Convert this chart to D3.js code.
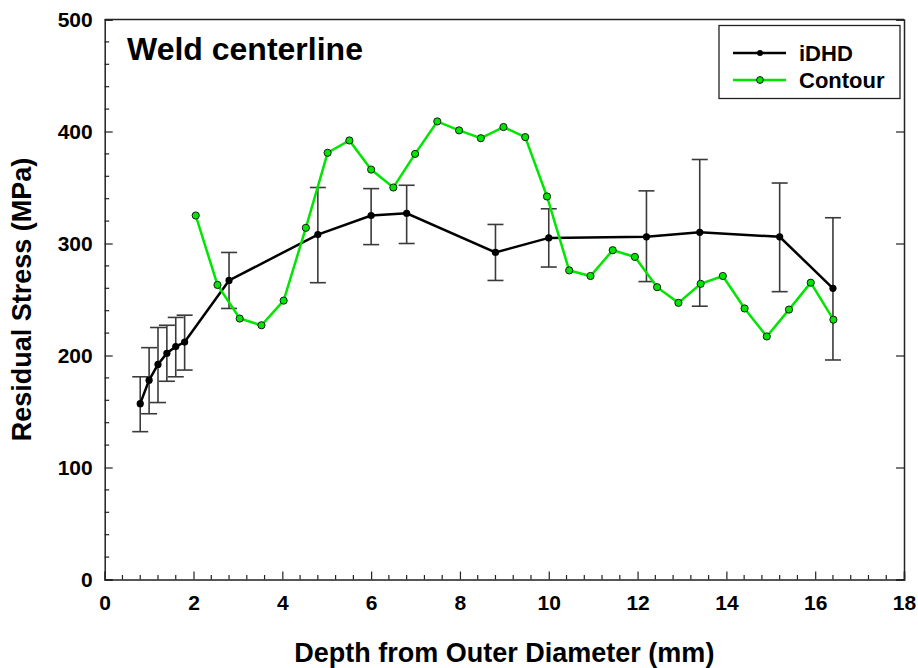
<!DOCTYPE html>
<html>
<head>
<meta charset="utf-8">
<script src="https://cdn.jsdelivr.net/npm/d3@7/dist/d3.min.js"></script>
<style>
  html, body { margin: 0; padding: 0; background: #fff; }
  svg { display: block; }
  text { font-family: "Liberation Sans", Arial, Helvetica, sans-serif; font-weight: bold; fill: #000; }
</style>
</head>
<body>
<svg id="chart" width="918" height="668"></svg>
<script>
// iDHD measurements: depth (mm), stress (MPa) and error-bar bounds
const idhdDepth = [0.80, 1.00, 1.20, 1.40, 1.60, 1.80, 2.80, 4.80, 6.00, 6.80, 8.80, 10.00, 12.20, 13.40, 15.20, 16.40];
const idhdStress = [157, 178, 192, 202, 208, 212, 267, 308, 325, 327, 292, 305, 306, 310, 306, 260];
const idhdLow = [132, 148, 158, 177, 181, 187, 242, 265, 299, 300, 267, 279, 266, 244, 257, 196];
const idhdHigh = [181, 207, 225, 227, 234, 236, 292, 350, 349, 352, 317, 331, 347, 375, 354, 323];

// Contour method profile
const contourDepth = [2.05, 2.54, 3.04, 3.53, 4.03, 4.53, 5.02, 5.51, 6.00, 6.50, 6.99, 7.49, 7.98, 8.47, 8.98,
                      9.47, 9.96, 10.46, 10.94, 11.44, 11.94, 12.44, 12.92, 13.42, 13.92, 14.41, 14.91, 15.41, 15.90, 16.41];
const contourStress = [325, 263, 233, 227, 249, 314, 381, 392, 366, 350, 380, 409, 401, 394, 404,
                       395, 342, 276, 271, 294, 288, 261, 247, 264, 271, 242, 217, 241, 265, 232];

// Axis ticks
const xTicks = [0, 2, 4, 6, 8, 10, 12, 14, 16, 18];
const yTicks = [0, 100, 200, 300, 400, 500];
const seriesNames = ["iDHD", "Contour"];

const svg = d3.select("#chart");
const plot = { left: 104.7, right: 904, top: 19.5, bottom: 579.5 };

const x = d3.scaleLinear().domain([0, 18]).range([plot.left, plot.right]);
const y = d3.scaleLinear().domain([0, 500]).range([plot.bottom, plot.top]);

const axisColor = "#222";
const green = "#00e600";

// Minor ticks (every 0.4 mm / 20 MPa), inward
const xMinor = d3.range(0, 18.001, 0.4).filter(v => Math.abs(v / 2 - Math.round(v / 2)) > 1e-6);
const yMinor = d3.range(0, 500.001, 20).filter(v => v % 100 !== 0);

const axes = svg.append("g");

// Bottom axis
const xAxis = d3.axisBottom(x).tickValues(xTicks).tickSize(-8).tickPadding(16).tickFormat(d3.format("d"));
const gx = axes.append("g").attr("transform", `translate(0,${plot.bottom})`).call(xAxis);
gx.append("g").selectAll("line").data(xMinor).join("line")
  .attr("x1", d => x(d)).attr("x2", d => x(d)).attr("y1", 0).attr("y2", -4.5)
  .attr("stroke", axisColor).attr("stroke-width", 1.2);

// Left axis
const yAxis = d3.axisLeft(y).tickValues(yTicks).tickSize(-8).tickPadding(12).tickFormat(d3.format("d"));
const gy = axes.append("g").attr("transform", `translate(${plot.left},0)`).call(yAxis);
gy.append("g").selectAll("line").data(yMinor).join("line")
  .attr("y1", d => y(d)).attr("y2", d => y(d)).attr("x1", 0).attr("x2", 4.5)
  .attr("stroke", axisColor).attr("stroke-width", 1.2);

// Right axis: major ticks only
axes.append("g").attr("transform", `translate(${plot.right},0)`)
  .call(d3.axisRight(y).tickValues(yTicks).tickSize(-8).tickFormat(""));

// Top axis: plain line
axes.append("line").attr("x1", plot.left).attr("x2", plot.right)
  .attr("y1", plot.top).attr("y2", plot.top).attr("stroke", axisColor).attr("stroke-width", 1.5);

axes.selectAll(".domain").attr("stroke", axisColor).attr("stroke-width", 1.5);
axes.selectAll(".tick line").attr("stroke", axisColor).attr("stroke-width", 1.2);
axes.selectAll(".tick text").attr("font-size", 21).attr("font-weight", "bold")
  .attr("font-family", "'Liberation Sans', Arial, sans-serif").attr("fill", "#000");

// Axis titles
svg.append("text").attr("x", (plot.left + plot.right) / 2).attr("y", 662)
  .attr("text-anchor", "middle").attr("font-size", 27).text("Depth from Outer Diameter (mm)");
svg.append("text").attr("transform", `translate(31,${(plot.top + plot.bottom) / 2}) rotate(-90)`)
  .attr("text-anchor", "middle").attr("font-size", 27).text("Residual Stress (MPa)");

// Panel title
svg.append("text").attr("x", 127).attr("y", 60).attr("font-size", 32).text("Weld centerline");

const idhd = idhdDepth.map((d, i) => ({ d, v: idhdStress[i], lo: idhdLow[i], hi: idhdHigh[i] }));
const contour = contourDepth.map((d, i) => ({ d, v: contourStress[i] }));

const line = d3.line().x(p => x(p.d)).y(p => y(p.v));

// Error bars
const eb = svg.append("g").attr("stroke", "#3a3a3a").attr("stroke-width", 1.6).attr("fill", "none");
const capHalf = 8;
idhd.forEach(p => {
  eb.append("line").attr("x1", x(p.d)).attr("x2", x(p.d)).attr("y1", y(p.lo)).attr("y2", y(p.hi));
  eb.append("line").attr("x1", x(p.d) - capHalf).attr("x2", x(p.d) + capHalf).attr("y1", y(p.lo)).attr("y2", y(p.lo));
  eb.append("line").attr("x1", x(p.d) - capHalf).attr("x2", x(p.d) + capHalf).attr("y1", y(p.hi)).attr("y2", y(p.hi));
});

// iDHD line + markers
svg.append("path").datum(idhd).attr("d", line).attr("fill", "none").attr("stroke", "#000").attr("stroke-width", 2.5);
svg.append("g").selectAll("circle").data(idhd).join("circle")
  .attr("cx", p => x(p.d)).attr("cy", p => y(p.v)).attr("r", 3.6).attr("fill", "#000");

// Contour line + markers
svg.append("path").datum(contour).attr("d", line).attr("fill", "none").attr("stroke", green).attr("stroke-width", 2.5);
svg.append("g").selectAll("circle").data(contour).join("circle")
  .attr("cx", p => x(p.d)).attr("cy", p => y(p.v)).attr("r", 3.6)
  .attr("fill", green).attr("stroke", "#1a1a1a").attr("stroke-width", 1);

// Legend
const lg = svg.append("g");
lg.append("rect").attr("x", 719).attr("y", 25.5).attr("width", 181).attr("height", 73)
  .attr("fill", "#fff").attr("stroke", "#222").attr("stroke-width", 1.3);
const legendRows = [
  { name: seriesNames[0], color: "#000", mk: "#000", ms: "none", r: 3, yy: 53 },
  { name: seriesNames[1], color: green, mk: green, ms: "#1a1a1a", r: 3.4, yy: 80 }
];
legendRows.forEach(row => {
  lg.append("line").attr("x1", 733).attr("x2", 786).attr("y1", row.yy).attr("y2", row.yy)
    .attr("stroke", row.color).attr("stroke-width", 2.5);
  lg.append("circle").attr("cx", 760).attr("cy", row.yy).attr("r", row.r)
    .attr("fill", row.mk).attr("stroke", row.ms).attr("stroke-width", 1);
  lg.append("text").attr("x", 799).attr("y", row.yy + 8).attr("font-size", 22).text(row.name);
});
</script>
</body>
</html>
